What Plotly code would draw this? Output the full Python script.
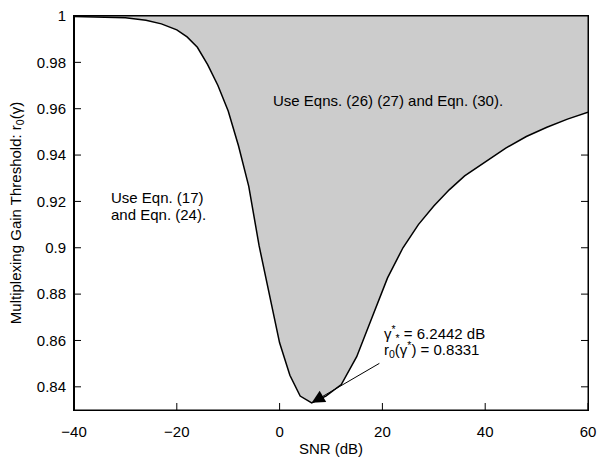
import plotly.graph_objects as go

# SNR (dB) samples and the multiplexing gain threshold r0(gamma)
snr_db = [-40, -35, -30, -26, -23, -20, -18, -16, -14, -12, -10, -8, -6, -4, -2,
          0, 2, 4, 6.2442, 9, 12, 15, 18, 21, 24, 27, 30, 33, 36, 40, 44, 48,
          52, 56, 60]
r0 = [0.9998, 0.9996, 0.9992, 0.9982, 0.9966, 0.9940, 0.9910, 0.9865, 0.9790,
      0.9700, 0.9590, 0.9440, 0.9265, 0.9010, 0.8795, 0.8590, 0.8450, 0.8360,
      0.8331, 0.8360, 0.8410, 0.8530, 0.8700, 0.8870, 0.9000, 0.9100, 0.9180,
      0.9250, 0.9310, 0.9370, 0.9430, 0.9480, 0.9520, 0.9555, 0.9585]
upper = [1.0] * len(snr_db)

gamma_star = 6.2442
r0_star = 0.8331

x_range = [-40, 60]
y_range = [0.83, 1.0]
x_ticks = [-40, -20, 0, 20, 40, 60]
y_ticks = [0.84, 0.86, 0.88, 0.90, 0.92, 0.94, 0.96, 0.98, 1.0]
y_tick_text = ["0.84", "0.86", "0.88", "0.9", "0.92", "0.94", "0.96", "0.98", "1"]

FONT = "Liberation Sans, Arial, Helvetica, sans-serif"
TXT = dict(size=15, color="black", family=FONT)

fig = go.Figure()

# inward tick marks on all four sides (half of each marker is clipped away)
tick_marker = dict(color="black", size=10, line=dict(color="black", width=1))
for y_edge in y_range:
    fig.add_trace(go.Scatter(x=x_ticks, y=[y_edge] * len(x_ticks), mode="markers",
                             marker=dict(symbol="line-ns-open", **tick_marker),
                             cliponaxis=True, showlegend=False, hoverinfo="skip"))
for x_edge in x_range:
    fig.add_trace(go.Scatter(x=[x_edge] * len(y_ticks), y=y_ticks, mode="markers",
                             marker=dict(symbol="line-ew-open", **tick_marker),
                             cliponaxis=True, showlegend=False, hoverinfo="skip"))

# upper boundary at r0 = 1 (invisible), then the curve filled up to it
fig.add_trace(go.Scatter(x=snr_db, y=upper, mode="lines",
                         line=dict(width=0, color="rgba(0,0,0,0)"),
                         showlegend=False, hoverinfo="skip"))
fig.add_trace(go.Scatter(x=snr_db, y=r0, mode="lines",
                         line=dict(color="black", width=1.5),
                         fill="tonexty", fillcolor="#cccccc",
                         showlegend=False))

fig.add_annotation(x=21.0, y=0.9634, text="Use Eqns. (26) (27) and Eqn. (30).",
                   showarrow=False, font=TXT)
fig.add_annotation(x=-33.1, y=0.9218, xanchor="left", text="Use Eqn. (17)",
                   showarrow=False, font=TXT)
fig.add_annotation(x=-33.1, y=0.9143, xanchor="left", text="and Eqn. (24).",
                   showarrow=False, font=TXT)
fig.add_annotation(x=19.9, y=0.8632, xanchor="left",
                   text=f"γ<sup>*</sup><sub>*</sub> = {gamma_star} dB",
                   showarrow=False, font=TXT)
fig.add_annotation(x=19.9, y=0.8562, xanchor="left",
                   text=f"r<sub>0</sub>(γ<sup>*</sup>) = {r0_star}",
                   showarrow=False, font=TXT)
# arrow pointing at the minimum
fig.add_annotation(x=gamma_star, y=r0_star, ax=19.7, ay=0.8505,
                   xref="x", yref="y", axref="x", ayref="y",
                   text="", showarrow=True, arrowhead=2, arrowsize=2.6,
                   arrowwidth=1, arrowcolor="black", standoff=0)

# axes box
fig.add_shape(type="rect", xref="paper", yref="paper", x0=0, y0=0, x1=1, y1=1,
              line=dict(color="black", width=1), layer="above")
fig.add_shape(type="line", xref="paper", yref="paper", x0=0, y0=0, x1=0, y1=1,
              line=dict(color="black", width=2), layer="above")

axis_common = dict(showgrid=False, zeroline=False, showline=True,
                   linecolor="black", linewidth=1, mirror=True,
                   ticks="", ticklabeloverflow="allow", tickfont=TXT)

fig.update_xaxes(range=x_range, tickmode="array", tickvals=x_ticks,
                 ticklabelstandoff=8,
                 title=dict(text="SNR (dB)", standoff=4, font=TXT),
                 **axis_common)
fig.update_yaxes(range=y_range, tickmode="array", tickvals=y_ticks,
                 ticktext=y_tick_text, ticklabelstandoff=4,
                 title=dict(text="Multiplexing Gain Threshold: r<sub>0</sub>(γ)",
                            standoff=11, font=TXT),
                 **axis_common)

fig.update_layout(width=603, height=462,
                  margin=dict(l=74, r=8, t=7, b=46),
                  paper_bgcolor="white", plot_bgcolor="white",
                  font=dict(family=FONT, color="black"))

fig.write_html("out.html")
